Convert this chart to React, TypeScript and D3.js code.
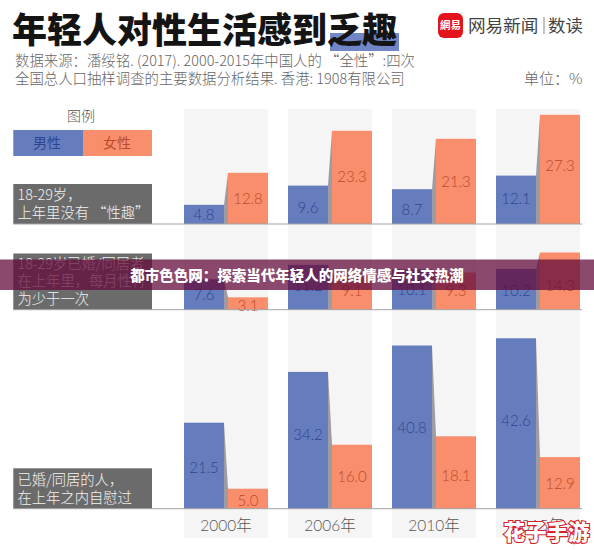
import * as d3 from 'd3';

const YEARS = ['2000年', '2006年', '2010年', '2015年'];
const SEXES = ['男性', '女性'];

const ROW1_MALE = [4.8, 9.6, 8.7, 12.1];
const ROW1_FEMALE = [12.8, 23.3, 21.3, 27.3];
const ROW2_MALE = [7.6, 11.2, 10.1, 10.2];
const ROW2_FEMALE = [3.1, 9.1, 9.3, 14.3];
const ROW3_MALE = [21.5, 34.2, 40.8, 42.6];
const ROW3_FEMALE = [5.0, 16.0, 18.1, 12.9];

// \uFF0C and \uFF1A are the full-width comma and colon
const ROW1_LABEL = ['18-29岁\uFF0C', '上年里没有 “性趣”'];
const ROW2_LABEL = ['18-29岁已婚/同居者', '在上年里\uFF0C每月性行', '为少于一次'];
const ROW3_LABEL = ['已婚/同居的人\uFF0C', '在上年之内自慰过'];

const SOURCE_LINES = [
  '数据来源\uFF1A潘绥铭. (2017). 2000-2015年中国人的 “全性”:四次',
  '全国总人口抽样调查的主要数据分析结果. 香港: 1908有限公司',
];
const UNIT_LABEL = '单位\uFF1A%';
const BANNER = '都市色色网\uFF1A探索当代年轻人的网络情感与社交热潮';

const W = 594, H = 550;
const CJK = '"Noto Sans CJK SC", "Noto Sans", sans-serif';
const NUM = 'Lato, "Noto Sans CJK SC", sans-serif';
const BLUE = '#667dbd', ORANGE = '#f88e6c';
const BLUE_TEXT = '#2f4590', ORANGE_TEXT = '#bd4a2c';

const x = d3.scaleBand<string>().domain(YEARS).range([184, 580]).paddingInner(20 / 104);
const sex = d3.scaleBand<string>().domain(SEXES).range([0, x.bandwidth()]).paddingInner(4 / 44);
const unit = d3.scaleLinear().domain([0, 1]).range([0, 4]);

// the value labels are not quite centred in their bars in the original
const ROWS = [
  { male: ROW1_MALE, female: ROW1_FEMALE, base: 224, label: ROW1_LABEL, boxTop: 184, maleShift: [0, 3, 2.5, -1], femaleShift: [0, -1, 0, -3.5] },
  { male: ROW2_MALE, female: ROW2_FEMALE, base: 309.7, label: ROW2_LABEL, boxTop: 253.5, maleShift: [0, -2, 0, 1], femaleShift: [1.5, -1.5, -1, 4] },
  { male: ROW3_MALE, female: ROW3_FEMALE, base: 508.7, label: ROW3_LABEL, boxTop: 468.3, maleShift: [2, -6, 0, -3], femaleShift: [1.5, 0, 2.5, 1] },
];

function Row({ row }: { row: (typeof ROWS)[number] }) {
  const y = (v: number) => row.base - unit(v);
  const left = sex(SEXES[0])!, right = sex(SEXES[1])!, bw = sex.bandwidth();
  return (
    <g>
      <rect x={13.3} y={row.boxTop} width={138.7} height={row.base - row.boxTop} fill="#6b6b6b" />
      {row.label.map((t, i) => (
        <text key={i} x={17.5} y={row.base - (row.label.length - 1 - i) * 17.6 - 6} fontFamily={CJK} fontSize={14.3} fill="#f2f2f2" fontWeight={300}>{t}</text>
      ))}
      {YEARS.map((yr, i) => {
        const x0 = x(yr)!;
        const m = row.male[i], f = row.female[i];
        // shadow wedge between the two bar tops
        const wedge: [number, number][] = [[x0 + left + bw, y(m)], [x0 + right, y(f)], [x0 + right, row.base], [x0 + left + bw, row.base]];
        return (
          <g key={yr}>
            <path d={d3.line()(wedge) + 'Z'} fill="#a09aa2" />
            <rect x={x0 + left} y={y(m)} width={bw} height={unit(m)} fill={BLUE} />
            <rect x={x0 + right} y={y(f)} width={bw} height={unit(f)} fill={ORANGE} />
            <text x={x0 + left + bw / 2} y={(y(m) + row.base) / 2 + 5.5 + row.maleShift[i]} textAnchor="middle" fontFamily={NUM} fontSize={15} fontWeight={300} fill={BLUE_TEXT}>{m.toFixed(1)}</text>
            <text x={x0 + right + bw / 2} y={(y(f) + row.base) / 2 + 5.5 + row.femaleShift[i]} textAnchor="middle" fontFamily={NUM} fontSize={15} fontWeight={300} fill={ORANGE_TEXT}>{f.toFixed(1)}</text>
          </g>
        );
      })}
      <line x1={13.3} x2={582} y1={row.base} y2={row.base} stroke="#a3a3a6" strokeWidth={1} />
    </g>
  );
}

export default function App() {
  return (
    <svg width={W} height={H} viewBox={`0 0 ${W} ${H}`} style={{ position: 'absolute', left: 0, top: 0, background: '#fff' }}>
      {/* header */}
      <rect x={330} y={33} width={69} height={18} fill="#7086c6" />
      <text x={12} y={43} fontFamily={CJK} fontSize={35} fontWeight={900} fill="#141414">年轻人对性生活感到乏趣</text>
      <rect x={438} y={13} width={25} height={25} rx={6} fill="#e3141b" />
      <text x={450.5} y={29} textAnchor="middle" fontFamily={CJK} fontSize={10.5} fontWeight={700} fill="#fff">網易</text>
      <text x={468} y={32} fontFamily={CJK} fontSize={17.6} fill="#444">网易新闻</text>
      <rect x={543.5} y={17} width={1} height={17} fill="#888" />
      <text x={548} y={32} fontFamily={CJK} fontSize={17.4} fill="#444">数读</text>
      {SOURCE_LINES.map((t, i) => (
        <text key={i} x={15} y={66 + i * 18.2} fontFamily={CJK} fontSize={14.4} fontWeight={300} fill="#666">{t}</text>
      ))}
      <text x={524} y={84} fontFamily={CJK} fontSize={15} fontWeight={300} fill="#666">{UNIT_LABEL}</text>

      {/* column backgrounds */}
      {YEARS.map((yr) => (
        <rect key={yr} x={x(yr)} y={109} width={x.bandwidth()} height={429} fill="#f5f5f6" />
      ))}

      {/* legend */}
      <text x={81} y={121} textAnchor="middle" fontFamily={CJK} fontSize={14} fontWeight={300} fill="#555">图例</text>
      <rect x={13.3} y={130} width={69.7} height={26} fill={BLUE} />
      <rect x={83} y={130} width={69} height={26} fill={ORANGE} />
      <text x={47} y={148} textAnchor="middle" fontFamily={CJK} fontSize={14} fill={BLUE_TEXT}>{SEXES[0]}</text>
      <text x={117} y={148} textAnchor="middle" fontFamily={CJK} fontSize={14} fill={ORANGE_TEXT}>{SEXES[1]}</text>

      {ROWS.map((row, i) => <Row key={i} row={row} />)}

      {/* year labels */}
      {YEARS.map((yr) => (
        <text key={yr} x={x(yr)! + x.bandwidth() / 2} y={531} textAnchor="middle" fontFamily={NUM} fontSize={15.5} fontWeight={300} fill="#555">{yr}</text>
      ))}

      {/* overlay banner */}
      <rect x={0} y={259.5} width={W} height={30.5} fill="#620a3a" fillOpacity={0.74} />
      <text x={297} y={281} textAnchor="middle" fontFamily={CJK} fontSize={14.5} fontWeight={900} fill="#fff">{BANNER}</text>

      {/* watermark */}
      <text x={503.5} y={540} fontFamily={CJK} fontSize={21.5} fontWeight={900} fill="#fff" stroke="#d5232a" strokeWidth={2.2} paintOrder="stroke">花子手游</text>
    </svg>
  );
}
